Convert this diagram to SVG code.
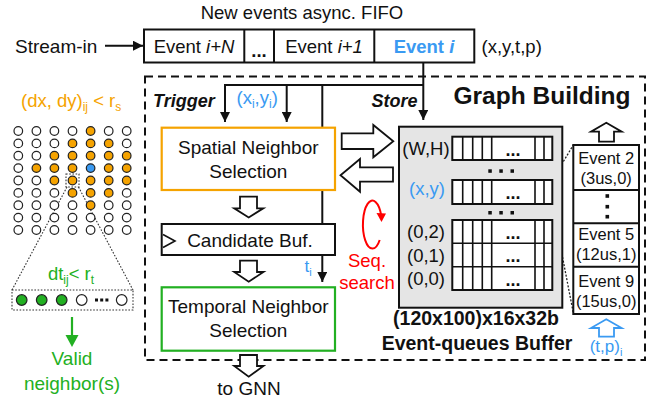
<svg xmlns="http://www.w3.org/2000/svg" width="664" height="402" viewBox="0 0 664 402">
<defs>
<style>
text{font-family:"Liberation Sans",Arial,sans-serif;fill:#111}
.t{font-size:19px}
.m{font-size:18.5px}
.s{font-size:16.5px}
.b{font-weight:bold}
.bi{font-weight:bold;font-style:italic}
.blue{fill:#3a9af2}
.or{fill:#f5a300}
.gr{fill:#22b022}
.red{fill:#f00}
.ln{stroke:#111;stroke-width:2;fill:none}
.box{stroke:#111;stroke-width:2;fill:#fff}
.hol{stroke:#111;stroke-width:1.8;fill:#fff;stroke-linejoin:miter}
.dw{fill:#fff;stroke:#222;stroke-width:1.2}
.dO{fill:#f5a300;stroke:#222;stroke-width:1.2}
.dB{fill:#3a9af2;stroke:#222;stroke-width:1.2}
.dG{fill:#22b022;stroke:#222;stroke-width:1.2}
.dot{stroke:#333;stroke-width:1.1;fill:none;stroke-dasharray:1.6 1.6}
.cell{stroke:#111;stroke-width:1.6}
.sq{fill:#111}
</style>
<marker id="ah" viewBox="0 0 10 10" refX="10" refY="5" markerWidth="5" markerHeight="5" orient="auto" markerUnits="strokeWidth">
<path d="M0,0 L10,5 L0,10 Z" fill="#111"/>
</marker>
</defs>
<rect width="664" height="402" fill="#fff"/>

<!-- Graph building dashed frame -->
<g id="graph-building">
<rect x="145" y="76.5" width="500" height="283.5" fill="none" stroke="#111" stroke-width="2" stroke-dasharray="8 5"/>
<text x="542" y="104" text-anchor="middle" class="b" style="font-size:24.5px">Graph Building</text>
</g>

<!-- Connectors -->
<g id="connectors">
<line x1="105" y1="45.7" x2="143" y2="45.7" class="ln" marker-end="url(#ah)"/>
<polyline points="225,85 423.3,85" class="ln"/>
<line x1="423.3" y1="62.5" x2="423.3" y2="120" class="ln" marker-end="url(#ah)"/>
<line x1="225" y1="84" x2="225" y2="122" class="ln" marker-end="url(#ah)"/>
<line x1="286.7" y1="85" x2="286.7" y2="122" class="ln" marker-end="url(#ah)"/>
<line x1="322.3" y1="85" x2="322.3" y2="282" class="ln" marker-end="url(#ah)"/>
<!-- hollow block arrows -->
<path d="M240,196.7 H257 V208.3 H263.3 L248.7,217.5 L234.2,208.3 H240 Z" class="hol"/>
<path d="M240,260.7 H257 V272 H263.5 L248.7,281.7 L234.2,272 H240 Z" class="hol"/>
<path d="M240,355 H257 V366 H263.5 L248.7,376.7 L234.2,366 H240 Z" class="hol"/>
<path d="M341.7,133.3 V149 H373.3 V157.3 L393.3,141.2 L373.3,125 V133.3 Z" class="hol"/>
<path d="M393,167.3 V181.7 H360 V191.7 L340.5,175.3 L360,159 V167.3 Z" class="hol"/>
<path d="M599,141.7 V131.7 H591 L606.3,122.7 L621.7,131.7 H614 V141.7 Z" class="hol"/>
<path d="M599,336.7 V328 H591 L606.3,319.3 L621.7,328 H614 V336.7 Z" fill="#fff" stroke="#3a9af2" stroke-width="1.8"/>
<!-- sequential search loop -->
<path d="M379.7,240 A9.5 24 0 1 1 381.3,216" fill="none" stroke="#f00" stroke-width="2"/>
<path d="M376.5,213 L386,213.5 L381.5,222 Z" fill="#f00"/>
<!-- dotted magnification lines -->
<line x1="552.3" y1="180" x2="573.3" y2="145" stroke="#222" stroke-width="1.3" stroke-dasharray="2 1.6"/>
<line x1="552.3" y1="204" x2="573.3" y2="313" stroke="#222" stroke-width="1.3" stroke-dasharray="2 1.6"/>
<line x1="67" y1="187" x2="12" y2="290" class="dot"/>
<line x1="78.5" y1="187" x2="133" y2="290" class="dot"/>
<line x1="72" y1="317" x2="72" y2="338" stroke="#22b022" stroke-width="2.2"/>
<path d="M65.5,335 L78.5,335 L72,347 Z" fill="#22b022"/>
</g>

<!-- FIFO -->
<g id="fifo">
<text x="302" y="19" text-anchor="middle" class="m">New events async. FIFO</text>
<rect x="144" y="29.5" width="330.3" height="33" class="box"/>
<line x1="244.3" y1="29.5" x2="244.3" y2="62.5" class="ln"/>
<line x1="274" y1="29.5" x2="274" y2="62.5" class="ln"/>
<line x1="374.3" y1="29.5" x2="374.3" y2="62.5" class="ln"/>
<text x="194" y="52.5" text-anchor="middle" class="m">Event <tspan font-style="italic">i+N</tspan></text>
<text x="259" y="56.5" text-anchor="middle" class="m b">...</text>
<text x="324" y="52.5" text-anchor="middle" class="m">Event <tspan font-style="italic">i+1</tspan></text>
<text x="424" y="52.5" text-anchor="middle" class="m b blue">Event <tspan font-style="italic">i</tspan></text>
<text x="481.5" y="52.5" class="m">(x,y,t,p)</text>
</g>

<g id="stream-in">
<text x="15" y="52.5" class="t">Stream-in</text>
</g>

<!-- Spatial neighbor selection -->
<g id="spatial">
<rect x="161.7" y="127.7" width="173.3" height="62.3" fill="#fff" stroke="#f5a300" stroke-width="2.2"/>
<text x="248.3" y="154" text-anchor="middle" class="t">Spatial Neighbor</text>
<text x="248.3" y="178.3" text-anchor="middle" class="t">Selection</text>
</g>

<!-- Candidate buffer -->
<g id="candidate">
<rect x="161.7" y="224" width="173.3" height="31" class="box"/>
<path d="M163,234.5 L175,241 L163,247.5" fill="none" stroke="#111" stroke-width="1.6"/>
<text x="250" y="246.5" text-anchor="middle" class="t">Candidate Buf.</text>
</g>

<!-- Temporal neighbor selection -->
<g id="temporal">
<rect x="161.7" y="287.3" width="173.3" height="63.4" fill="#fff" stroke="#22b022" stroke-width="2.2"/>
<text x="248.3" y="313.3" text-anchor="middle" class="t">Temporal Neighbor</text>
<text x="248.3" y="337.3" text-anchor="middle" class="t">Selection</text>
</g>

<!-- labels -->
<g id="labels">
<text x="153" y="106.5" class="bi" style="font-size:18px">Trigger</text>
<text x="236.5" y="104" class="m blue">(x<tspan font-size="12" dy="4">i</tspan><tspan dy="-4">,y</tspan><tspan font-size="12" dy="4">i</tspan><tspan dy="-4">)</tspan></text>
<text x="371.5" y="106.5" class="bi" style="font-size:18px">Store</text>
<text x="304.5" y="272" class="blue" style="font-size:17px">t<tspan font-size="11" dy="4">i</tspan></text>
<text x="367" y="266.7" text-anchor="middle" class="m red">Seq.</text>
<text x="367" y="289.3" text-anchor="middle" class="m red">search</text>
<text x="249" y="395" text-anchor="middle" class="t">to GNN</text>
</g>

<!-- Event queues buffer -->
<g id="buffer">
<rect x="399" y="126.7" width="163.3" height="181" fill="#e5e5e5" stroke="#111" stroke-width="2"/>
<text x="426" y="155" text-anchor="middle" class="m">(W,H)</text>
<text x="427" y="195" text-anchor="middle" class="m blue">(x,y)</text>
<text x="426" y="238.3" text-anchor="middle" class="m">(0,2)</text>
<text x="426" y="261.7" text-anchor="middle" class="m">(0,1)</text>
<text x="426" y="284.5" text-anchor="middle" class="m">(0,0)</text>
<g id="row-wh">
<rect x="452.3" y="136.7" width="100" height="23.3" class="box"/>
<path d="M462.7,136.7V160M472.7,136.7V160M482.3,136.7V160M491.7,136.7V160M535,136.7V160M544,136.7V160" class="cell"/>
<text x="513" y="155.5" text-anchor="middle" class="b" style="font-size:18px">...</text>
</g>
<g id="row-xy">
<rect x="452.3" y="180" width="100" height="24" class="box"/>
<path d="M462.7,180V204M472.7,180V204M482.3,180V204M491.7,180V204M535,180V204M544,180V204" class="cell"/>
<text x="513" y="199" text-anchor="middle" class="b" style="font-size:18px">...</text>
</g>
<g id="rows-low">
<rect x="452.3" y="220" width="100" height="70" class="box"/>
<path d="M452.3,243.3H552.3M452.3,266.7H552.3" class="cell"/>
<path d="M462.7,220V290M472.7,220V290M482.3,220V290M491.7,220V290M535,220V290M544,220V290" class="cell"/>
<text x="513" y="239" text-anchor="middle" class="b" style="font-size:18px">...</text>
<text x="513" y="262.3" text-anchor="middle" class="b" style="font-size:18px">...</text>
<text x="513" y="285.7" text-anchor="middle" class="b" style="font-size:18px">...</text>
</g>
<rect x="488.3" y="169.3" width="3.5" height="3.5" class="sq"/>
<rect x="499.3" y="169.3" width="3.5" height="3.5" class="sq"/>
<rect x="510.5" y="169.3" width="3.5" height="3.5" class="sq"/>
<rect x="488.3" y="211" width="3.5" height="3.5" class="sq"/>
<rect x="499.3" y="211" width="3.5" height="3.5" class="sq"/>
<rect x="510.5" y="211" width="3.5" height="3.5" class="sq"/>
<text x="476" y="324.5" text-anchor="middle" class="b" style="font-size:19.5px">(120x100)x16x32b</text>
<text x="477" y="350" text-anchor="middle" class="b" style="font-size:19.5px">Event-queues Buffer</text>
</g>

<!-- Event stack -->
<g id="event-stack">
<rect x="573.3" y="145" width="65.7" height="169" class="box"/>
<path d="M573.3,190H639M573.3,223.3H639M573.3,266.7H639" class="ln"/>
<text x="606.2" y="163.5" text-anchor="middle" class="s">Event 2</text>
<text x="606.2" y="184" text-anchor="middle" class="s">(3us,0)</text>
<rect x="605.5" y="194.2" width="3.6" height="3.6" class="sq"/>
<rect x="605.5" y="204.9" width="3.6" height="3.6" class="sq"/>
<rect x="605.5" y="214.9" width="3.6" height="3.6" class="sq"/>
<text x="606.2" y="240" text-anchor="middle" class="s">Event 5</text>
<text x="606.2" y="260.3" text-anchor="middle" class="s">(12us,1)</text>
<text x="606.2" y="286.7" text-anchor="middle" class="s">Event 9</text>
<text x="606.2" y="306.7" text-anchor="middle" class="s">(15us,0)</text>
<text x="606" y="351.5" text-anchor="middle" class="blue" style="font-size:17px">(t,p)<tspan font-size="11" dy="4">i</tspan></text>
</g>

<!-- Left: neighbour illustration -->
<g id="spatial-grid">
<text x="21" y="106.5" class="m or">(dx, dy)<tspan font-size="12" dy="4">ij</tspan><tspan dy="-4"> &lt; r</tspan><tspan font-size="12" dy="4">s</tspan></text>
<g id="dots">
<circle cx="18.3" cy="131" r="4.3" class="dw"/><circle cx="36.4" cy="131" r="4.3" class="dw"/><circle cx="54.4" cy="131" r="4.3" class="dw"/><circle cx="72.5" cy="131" r="4.3" class="dw"/><circle cx="90.6" cy="131" r="4.3" class="dO"/><circle cx="108.7" cy="131" r="4.3" class="dw"/><circle cx="126.7" cy="131" r="4.3" class="dw"/>
<circle cx="18.3" cy="143.4" r="4.3" class="dw"/><circle cx="36.4" cy="143.4" r="4.3" class="dw"/><circle cx="54.4" cy="143.4" r="4.3" class="dw"/><circle cx="72.5" cy="143.4" r="4.3" class="dO"/><circle cx="90.6" cy="143.4" r="4.3" class="dO"/><circle cx="108.7" cy="143.4" r="4.3" class="dO"/><circle cx="126.7" cy="143.4" r="4.3" class="dw"/>
<circle cx="18.3" cy="155.7" r="4.3" class="dw"/><circle cx="36.4" cy="155.7" r="4.3" class="dw"/><circle cx="54.4" cy="155.7" r="4.3" class="dO"/><circle cx="72.5" cy="155.7" r="4.3" class="dO"/><circle cx="90.6" cy="155.7" r="4.3" class="dO"/><circle cx="108.7" cy="155.7" r="4.3" class="dO"/><circle cx="126.7" cy="155.7" r="4.3" class="dO"/>
<circle cx="18.3" cy="168.1" r="4.3" class="dw"/><circle cx="36.4" cy="168.1" r="4.3" class="dO"/><circle cx="54.4" cy="168.1" r="4.3" class="dO"/><circle cx="72.5" cy="168.1" r="4.3" class="dO"/><circle cx="90.6" cy="168.1" r="4.3" class="dB"/><circle cx="108.7" cy="168.1" r="4.3" class="dO"/><circle cx="126.7" cy="168.1" r="4.3" class="dO"/>
<circle cx="18.3" cy="180.5" r="4.3" class="dw"/><circle cx="36.4" cy="180.5" r="4.3" class="dw"/><circle cx="54.4" cy="180.5" r="4.3" class="dO"/><circle cx="72.5" cy="180.5" r="4.3" class="dO"/><circle cx="90.6" cy="180.5" r="4.3" class="dO"/><circle cx="108.7" cy="180.5" r="4.3" class="dO"/><circle cx="126.7" cy="180.5" r="4.3" class="dO"/>
<circle cx="18.3" cy="192.9" r="4.3" class="dw"/><circle cx="36.4" cy="192.9" r="4.3" class="dw"/><circle cx="54.4" cy="192.9" r="4.3" class="dw"/><circle cx="72.5" cy="192.9" r="4.3" class="dO"/><circle cx="90.6" cy="192.9" r="4.3" class="dO"/><circle cx="108.7" cy="192.9" r="4.3" class="dO"/><circle cx="126.7" cy="192.9" r="4.3" class="dw"/>
<circle cx="18.3" cy="205.2" r="4.3" class="dw"/><circle cx="36.4" cy="205.2" r="4.3" class="dw"/><circle cx="54.4" cy="205.2" r="4.3" class="dw"/><circle cx="72.5" cy="205.2" r="4.3" class="dw"/><circle cx="90.6" cy="205.2" r="4.3" class="dO"/><circle cx="108.7" cy="205.2" r="4.3" class="dw"/><circle cx="126.7" cy="205.2" r="4.3" class="dw"/>
<circle cx="18.3" cy="217.6" r="4.3" class="dw"/><circle cx="36.4" cy="217.6" r="4.3" class="dw"/><circle cx="54.4" cy="217.6" r="4.3" class="dw"/><circle cx="72.5" cy="217.6" r="4.3" class="dw"/><circle cx="90.6" cy="217.6" r="4.3" class="dw"/><circle cx="108.7" cy="217.6" r="4.3" class="dw"/><circle cx="126.7" cy="217.6" r="4.3" class="dw"/>
<circle cx="18.3" cy="230" r="4.3" class="dw"/><circle cx="36.4" cy="230" r="4.3" class="dw"/><circle cx="54.4" cy="230" r="4.3" class="dw"/><circle cx="72.5" cy="230" r="4.3" class="dw"/><circle cx="90.6" cy="230" r="4.3" class="dw"/><circle cx="108.7" cy="230" r="4.3" class="dw"/><circle cx="126.7" cy="230" r="4.3" class="dw"/>
</g>
<rect x="66" y="174" width="13" height="13" class="dot"/>
</g>

<g id="temporal-strip">
<text x="71" y="280" text-anchor="middle" class="m gr">dt<tspan font-size="12" dy="4">ij</tspan><tspan dy="-4">&lt; r</tspan><tspan font-size="12" dy="4">t</tspan></text>
<rect x="12" y="290" width="121" height="20" class="dot"/>
<circle cx="21.7" cy="300" r="5.3" class="dG"/>
<circle cx="41.7" cy="300" r="5.3" class="dG"/>
<circle cx="61.7" cy="300" r="5.3" class="dG"/>
<circle cx="81.7" cy="300" r="5.3" class="dw"/>
<rect x="95" y="298.5" width="3" height="3" class="sq"/>
<rect x="100.2" y="298.5" width="3" height="3" class="sq"/>
<rect x="105.4" y="298.5" width="3" height="3" class="sq"/>
<circle cx="121.7" cy="300" r="5.3" class="dw"/>
</g>

<g id="valid-neighbors">
<text x="72" y="365" text-anchor="middle" class="t gr">Valid</text>
<text x="72" y="390" text-anchor="middle" class="t gr">neighbor(s)</text>
</g>
</svg>
